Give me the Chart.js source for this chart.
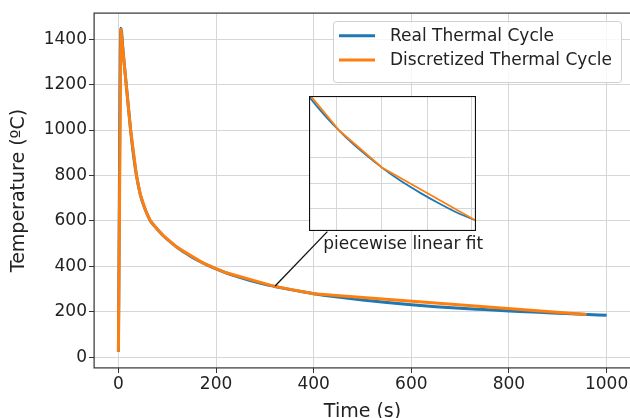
<!DOCTYPE html>
<html>
<head>
<meta charset="utf-8">
<script src="https://cdn.jsdelivr.net/npm/chart.js@4.4.0/dist/chart.umd.min.js"></script>
<style>
  html, body { margin: 0; padding: 0; background: #fff; overflow: hidden; }
  #wrap { position: relative; width: 630px; height: 418px; overflow: hidden; }
  #main { position: absolute; left: 0; top: 0; }
  #inset { position: absolute; left: 309px; top: 96px; }
</style>
</head>
<body>
<div id="wrap">
  <canvas id="main" width="640" height="432"></canvas>
  <canvas id="inset" width="167" height="135"></canvas>
</div>
<script>
// values
const realTime = [0, 5, 10, 16, 20, 25, 30, 37, 45, 55, 65, 78, 92, 108, 120, 135, 150, 165, 180, 200,
                  220, 240, 260, 280, 300, 320, 350, 380, 400, 450, 500, 550, 600, 650, 700, 750, 800,
                  850, 900, 950, 1000];
const realTemp = [25, 1448, 1335, 1200, 1110, 1000, 905, 800, 715, 650, 602, 568, 535, 505, 484, 462, 442, 424, 408, 389,
                  372, 357, 344, 332, 321, 312, 299, 287, 280, 265, 252, 241, 231, 223, 216, 210, 204,
                  199, 194, 189, 185];

const fitTime = [0, 5, 16, 25, 37, 45, 55, 65, 78, 92, 120, 173, 219, 320, 400, 959];
const fitTemp = [25, 1448, 1200, 1000, 800, 715, 650, 602, 568, 535, 484, 415.5, 373, 312, 280, 188];

const seriesNames = ['Real Thermal Cycle', 'Discretized Thermal Cycle'];

const xTicks = [0, 200, 400, 600, 800, 1000];
const yTicks = [0, 200, 400, 600, 800, 1000, 1200, 1400];

// inset (zoomed window of the same curves)
const insetXRange = [140, 320.8];
const insetYRange = [299.6, 455.7];
const insetXTicks = [170, 219, 268, 316];
const insetYTicks = [326, 355, 385, 416];

// annotation, in data coordinates of the main axes
const annotationText = 'piecewise linear fit';
const annotationFrom = [321, 314];
const annotationTo = [428, 553];
const annotationLabelAt = [419.6, 475];

const FONT = "'DejaVu Sans', sans-serif";
const BLUE = '#1f77b4';
const ORANGE = '#ff7f0e';
const GRID = '#d6d6d6';
const TEXT = '#222';

const toPoints = (xs, ys) => xs.map((x, i) => ({x, y: ys[i]}));
const fixedTicks = values => scale => { scale.ticks = values.map(v => ({value: v})); };
const plainLabel = v => String(v);

const frame = {
    id: 'frame',
    afterDatasetsDraw(chart, args, opts) {
        const {ctx, chartArea: a} = chart;
        const w = opts.width || 1.2;
        ctx.save();
        ctx.strokeStyle = opts.color || '#333';
        ctx.lineWidth = w;
        ctx.strokeRect(a.left + w / 2 - 0.5, a.top + w / 2 - 0.5, a.right - a.left - w + 1, a.bottom - a.top - w + 1);
        ctx.restore();
    }
};

const whiteBg = {
    id: 'whiteBg',
    beforeDraw(chart) {
        const {ctx, width, height} = chart;
        ctx.save();
        ctx.fillStyle = '#fff';
        ctx.fillRect(0, 0, width, height);
        ctx.restore();
    }
};

const legendBox = {
    id: 'legendBox',
    afterDraw(chart) {
        const {ctx} = chart;
        const x0 = 333.5, y0 = 21.5, w = 288, h = 61, r = 3;
        ctx.save();
        ctx.beginPath();
        ctx.roundRect(x0, y0, w, h, r);
        ctx.fillStyle = 'rgba(255,255,255,0.8)';
        ctx.fill();
        ctx.strokeStyle = '#d0d0d0';
        ctx.lineWidth = 1;
        ctx.stroke();
        const rows = [35.7, 60];
        chart.data.datasets.forEach((ds, i) => {
            ctx.strokeStyle = ds.borderColor;
            ctx.lineWidth = 3;
            ctx.beginPath();
            ctx.moveTo(339, rows[i]);
            ctx.lineTo(375, rows[i]);
            ctx.stroke();
            ctx.fillStyle = TEXT;
            ctx.font = `17px ${FONT}`;
            ctx.textBaseline = 'middle';
            ctx.fillText(ds.label, 390, rows[i] + 1);
        });
        ctx.restore();
    }
};

const annotation = {
    id: 'annotation',
    afterDatasetsDraw(chart) {
        const {ctx, scales: {x, y}} = chart;
        ctx.save();
        ctx.strokeStyle = '#111';
        ctx.lineWidth = 1.3;
        ctx.beginPath();
        ctx.moveTo(x.getPixelForValue(annotationFrom[0]), y.getPixelForValue(annotationFrom[1]));
        ctx.lineTo(x.getPixelForValue(annotationTo[0]), y.getPixelForValue(annotationTo[1]));
        ctx.stroke();
        ctx.fillStyle = TEXT;
        ctx.font = `17px ${FONT}`;
        ctx.textAlign = 'left';
        ctx.textBaseline = 'alphabetic';
        ctx.fillText(annotationText, x.getPixelForValue(annotationLabelAt[0]), y.getPixelForValue(annotationLabelAt[1]));
        ctx.restore();
    }
};

const tickFont = {family: FONT, size: 17};
const titleFont = {family: FONT, size: 19};

new Chart(document.getElementById('main'), {
    type: 'line',
    data: {
        datasets: [
            {
                label: seriesNames[0],
                data: toPoints(realTime, realTemp),
                borderColor: BLUE,
                borderWidth: 3,
                pointRadius: 0,
                cubicInterpolationMode: 'monotone',
                order: 1
            },
            {
                label: seriesNames[1],
                data: toPoints(fitTime, fitTemp),
                borderColor: ORANGE,
                borderWidth: 3,
                pointRadius: 0,
                tension: 0,
                order: 0
            }
        ]
    },
    options: {
        responsive: false,
        animation: false,
        devicePixelRatio: 1,
        layout: {padding: {top: 13, right: 9, left: 0, bottom: 0}},
        plugins: {
            legend: {display: false},
            tooltip: {enabled: false},
            frame: {color: '#333', width: 1.2}
        },
        scales: {
            x: {
                type: 'linear',
                min: -50,
                max: 1050,
                afterBuildTicks: fixedTicks(xTicks),
                afterFit: s => { s.height = 64; },
                border: {display: false},
                grid: {color: GRID, lineWidth: 1, tickLength: 5, tickColor: '#333'},
                ticks: {font: tickFont, color: TEXT, padding: 1, maxRotation: 0, callback: plainLabel},
                title: {display: true, text: 'Time (s)', font: titleFont, color: TEXT, padding: {bottom: 9}}
            },
            y: {
                type: 'linear',
                min: -47,
                max: 1515,
                afterBuildTicks: fixedTicks(yTicks),
                afterFit: s => { s.width = 94; },
                border: {display: false},
                grid: {color: GRID, lineWidth: 1, tickLength: 5, tickColor: '#333'},
                ticks: {font: tickFont, color: TEXT, padding: 2, callback: plainLabel},
                title: {display: true, text: 'Temperature (ºC)', font: titleFont, color: TEXT, padding: {top: 8}}
            }
        }
    },
    plugins: [whiteBg, frame, annotation, legendBox]
});

new Chart(document.getElementById('inset'), {
    type: 'line',
    data: {
        datasets: [
            {
                data: toPoints(realTime, realTemp),
                borderColor: BLUE,
                borderWidth: 1.8,
                pointRadius: 0,
                cubicInterpolationMode: 'monotone',
                order: 1
            },
            {
                data: toPoints(fitTime, fitTemp),
                borderColor: ORANGE,
                borderWidth: 1.8,
                pointRadius: 0,
                tension: 0,
                order: 0
            }
        ]
    },
    options: {
        responsive: false,
        animation: false,
        devicePixelRatio: 1,
        layout: {padding: 0},
        plugins: {
            legend: {display: false},
            tooltip: {enabled: false},
            frame: {color: '#111', width: 1.6}
        },
        scales: {
            x: {
                type: 'linear',
                min: insetXRange[0],
                max: insetXRange[1],
                afterBuildTicks: fixedTicks(insetXTicks),
                afterFit: s => { s.height = 0; },
                border: {display: false},
                grid: {color: GRID, drawTicks: false},
                ticks: {display: false}
            },
            y: {
                type: 'linear',
                min: insetYRange[0],
                max: insetYRange[1],
                afterBuildTicks: fixedTicks(insetYTicks),
                afterFit: s => { s.width = 0; },
                border: {display: false},
                grid: {color: GRID, drawTicks: false},
                ticks: {display: false}
            }
        }
    },
    plugins: [whiteBg, frame]
});
</script>
</body>
</html>
